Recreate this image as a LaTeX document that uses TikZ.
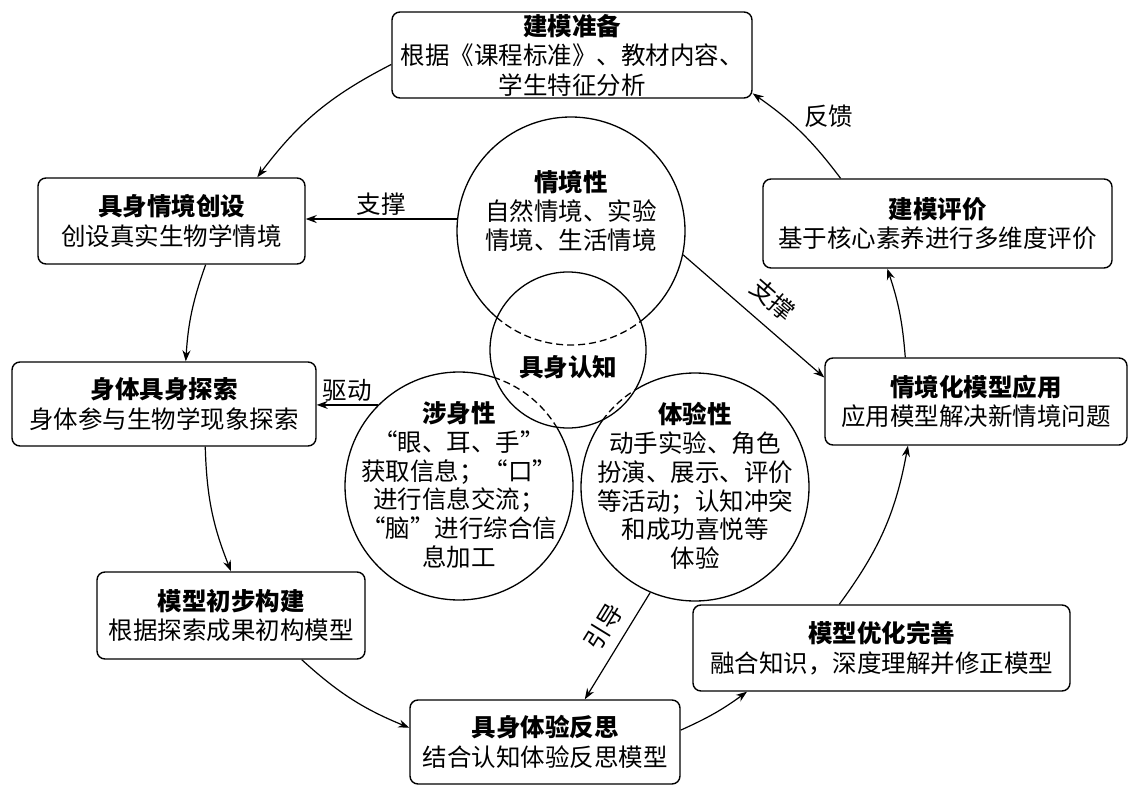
\documentclass[tikz,border=0pt]{standalone}
\usepackage{fontspec}
\setmainfont{Noto Sans CJK SC}
\usetikzlibrary{arrows.meta}
\tikzset{
    stage/.style={draw, rounded corners=8pt, line width=1.4pt, align=center, inner sep=0pt},
    trait/.style={draw, circle, line width=1.3pt, minimum size=228pt, inner sep=0pt},
    traittext/.style={align=center, font=\fontsize{24.5}{28.8}\selectfont},
    flow/.style={-{Stealth[length=11pt,width=8pt]}, line width=1.2pt},
    cut/.style={line width=1.3pt, dash pattern=on 7pt off 4pt},
}

\begin{document}
\begin{tikzpicture}[x=1pt, y=-1pt, font=\fontsize{24.5}{29.5}\selectfont]
    \useasboundingbox (0,0) rectangle (1134,786);

    \node[stage, minimum width=360pt, minimum height=86pt] (prep) at (572,55) {\textbf{建模准备}\\根据《课程标准》、教材内容、\\学生特征分析};
    \node[stage, minimum width=267pt, minimum height=86pt] (situ) at (171.5,221) {\textbf{具身情境创设}\\创设真实生物学情境};
    \node[stage, minimum width=304pt, minimum height=84pt] (expl) at (164,404) {\textbf{身体具身探索}\\身体参与生物学现象探索};
    \node[stage, minimum width=268pt, minimum height=87pt] (build) at (231,615.5) {\textbf{模型初步构建}\\根据探索成果初构模型};
    \node[stage, minimum width=270pt, minimum height=84pt] (refl) at (545,742) {\textbf{具身体验反思}\\结合认知体验反思模型};
    \node[stage, minimum width=377pt, minimum height=86pt] (opt) at (881.5,648) {\textbf{模型优化完善}\\融合知识，深度理解并修正模型};
    \node[stage, minimum width=302pt, minimum height=87pt] (app) at (976,401.5) {\textbf{情境化模型应用}\\应用模型解决新情境问题};
    \node[stage, minimum width=349pt, minimum height=89pt] (eval) at (937.5,223.5) {\textbf{建模评价}\\基于核心素养进行多维度评价};

    \node[trait] (sit) at (571,231) {};
    \node[trait] (emb) at (459,486) {};
    \node[trait] (exp) at (695,487) {};
    \node[trait, minimum size=156pt, fill=white] (core) at (568,350) {};
    \begin{scope}
        \clip (core.center) circle[radius=78];
        \draw[cut] (sit.center) circle[radius=114];
        \draw[cut] (emb.center) circle[radius=114];
        \draw[cut] (exp.center) circle[radius=114];
    \end{scope}
    \node[traittext] (sit-t) at (571,211) {\textbf{情境性}\\自然情境、实验\\情境、生活情境};
    \node[traittext] (emb-t) at (459,485) {\textbf{涉身性}\\“眼、耳、手”\\获取信息；“口”\\进行信息交流；\\“脑”进行综合信\\息加工};
    \node[traittext] (exp-t) at (695,486) {\textbf{体验性}\\动手实验、角色\\扮演、展示、评价\\等活动；认知冲突\\和成功喜悦等\\体验};
    \node (core-t) at (568,367) {\textbf{具身认知}};

    \draw[flow] (prep.183) to[bend right=13] (situ.27);
    \draw[flow] (situ.-52) to[bend right=8] (expl.63);
    \draw[flow] (expl.-46) to[bend right=10] (build.north);
    \draw[flow] (build.-32) to[bend right=10] (refl.174);
    \draw[flow] (refl.5) to[bend right=6] (opt.198);
    \draw[flow] (opt.134) to[bend right=13] (app.213);
    \draw[flow] (app.148) to[bend right=7] (eval.222);
    \draw[flow] (eval.155) to[bend right=9] node[midway, above right] {反馈} (prep.-12);

    \draw[flow] (sit.174) -- node[above] {支撑} (sit.174 -| situ.east);
    \draw[flow] (emb.135) -- node[above] {驱动} (emb.135 -| expl.east);
    \draw[flow] (sit.-12) -- node[pos=0.52, sloped, above=10pt] {支撑} (app.171);
    \draw[flow] (exp.-113) -- node[pos=0.43, sloped, above=7pt] {引导} (refl.47);
\end{tikzpicture}
\end{document}
